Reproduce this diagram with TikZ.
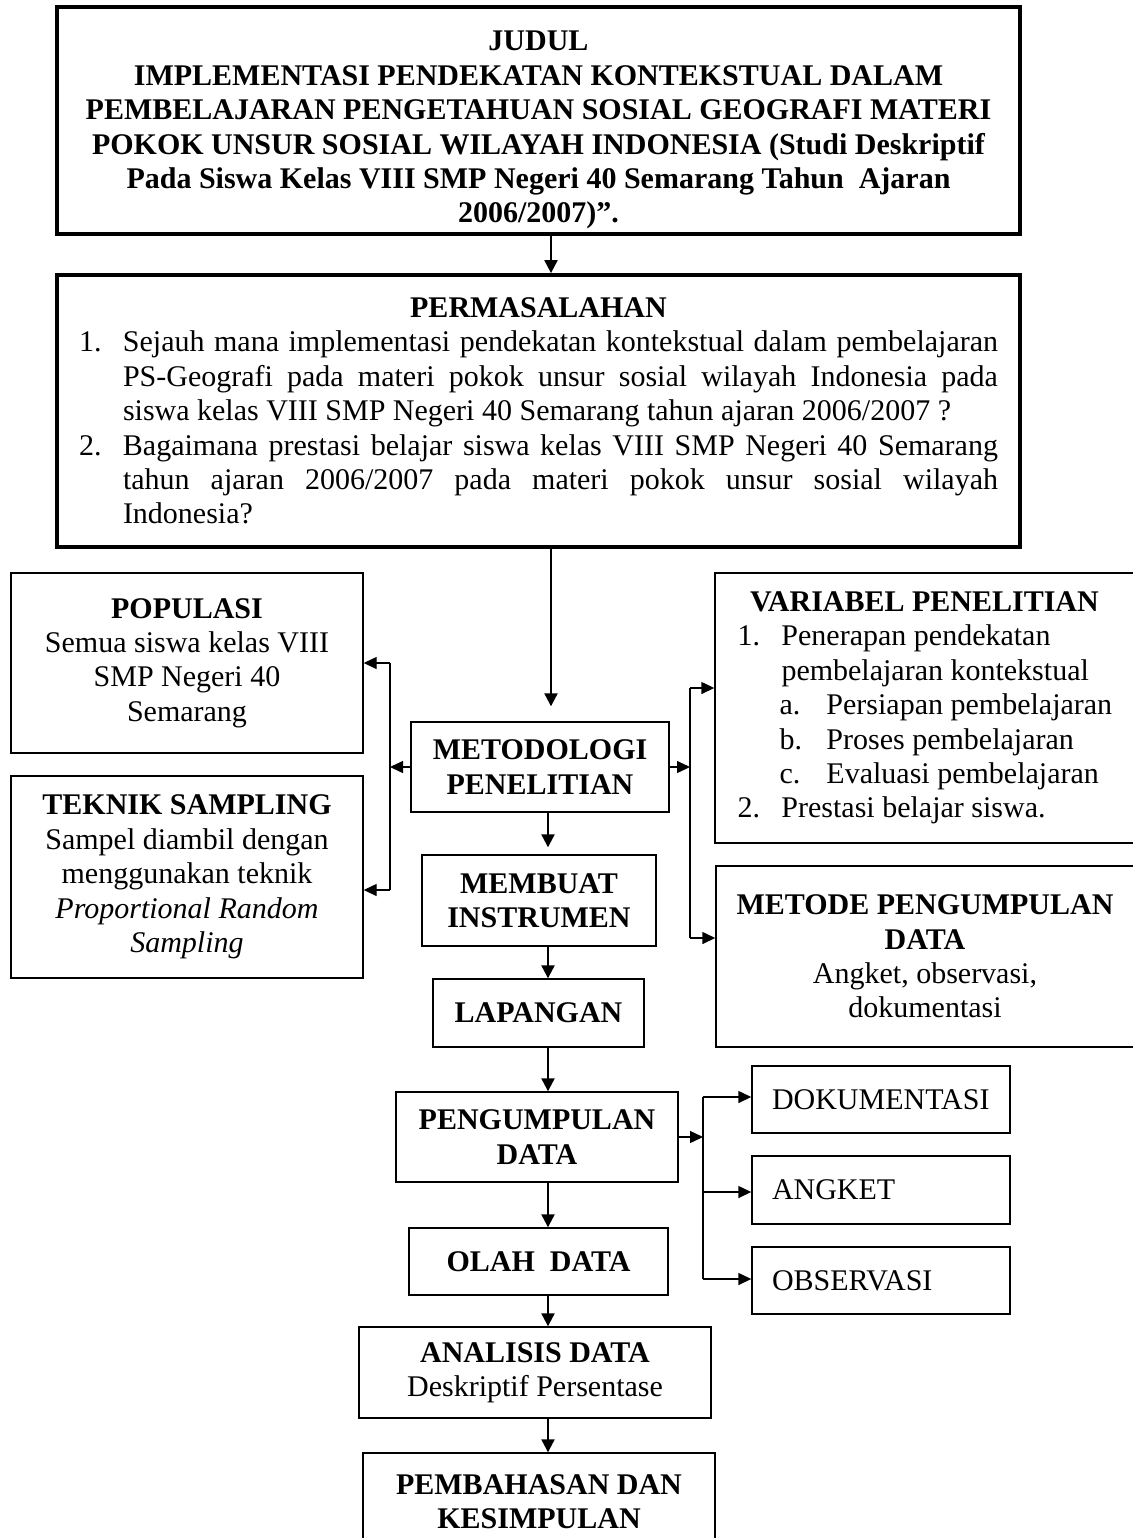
\documentclass[tikz,border=0pt]{standalone}
\usepackage{fontspec}
\setmainfont{Liberation Serif}
\usetikzlibrary{arrows.meta,positioning}
\newcommand{\ukuran}{\fontsize{15pt}{17.2pt}\selectfont}
\newcommand{\butir}[1]{\makebox[22pt][l]{#1}}

\begin{document}
\begin{tikzpicture}[x=0.5pt, y=-0.5pt,
  box/.style={draw, line width=.7pt, align=center, inner sep=2pt, font=\ukuran},
  bbox/.style={box, font=\ukuran\bfseries},
  pbox/.style={box, align=left, text width=109pt, inner xsep=10pt},
  arr/.style={-{Triangle[length=6.5pt,width=6.5pt]}, line width=1.1pt},
  arrs/.style={-{Triangle[length=6.5pt,width=6pt]}, line width=.7pt},
  bus/.style={line width=.7pt}]
  \useasboundingbox (0,0) rectangle (1133,1538);
  \coordinate (atas) at (551,0);
  \coordinate (spine) at (548,0);
  \node[bbox, line width=1.9pt, minimum width=481.5pt, minimum height=113.5pt] (judul) at (538.5,120.5)
    {JUDUL\rule{0pt}{19.5pt}\\IMPLEMENTASI PENDEKATAN KONTEKSTUAL DALAM\\PEMBELAJARAN PENGETAHUAN SOSIAL GEOGRAFI MATERI\\POKOK UNSUR SOSIAL WILAYAH INDONESIA (Studi Deskriptif\\Pada Siswa Kelas VIII SMP Negeri 40 Semarang Tahun\ \ Ajaran\\2006/2007)”.};
  \node[box, line width=1.9pt, minimum width=481.5pt, minimum height=136pt] (masalah) at (538.5,411)
    {\textbf{PERMASALAHAN}\\
     \butir{1.}\makebox[437.5pt][s]{Sejauh mana implementasi pendekatan kontekstual dalam pembelajaran}\\
     \hspace*{22pt}\makebox[437.5pt][s]{PS-Geografi pada materi pokok unsur sosial wilayah Indonesia pada}\\
     \hspace*{22pt}\makebox[437.5pt][l]{siswa kelas VIII SMP Negeri 40 Semarang tahun ajaran 2006/2007 ?}\\
     \butir{2.}\makebox[437.5pt][s]{Bagaimana prestasi belajar siswa kelas VIII SMP Negeri 40 Semarang}\\
     \hspace*{22pt}\makebox[437.5pt][s]{tahun ajaran 2006/2007 pada materi pokok unsur sosial wilayah}\\
     \hspace*{22pt}\makebox[437.5pt][l]{Indonesia?}};
  \node[box, minimum width=176pt, minimum height=90pt] (populasi) at (187,663)
    {\textbf{POPULASI}\\Semua siswa kelas VIII\\SMP Negeri 40\\Semarang};
  \node[box, minimum width=176pt, minimum height=101pt] (teknik) at (187,877)
    {\textbf{TEKNIK SAMPLING}\\Sampel diambil dengan\\menggunakan teknik\\\textit{Proportional Random}\\\textit{Sampling}};
  \node[bbox, minimum width=129pt, minimum height=45pt] (metod) at (540,767) {METODOLOGI\\PENELITIAN};
  \node[box, minimum width=209.5pt, minimum height=135pt] (variabel) at (924.5,708)
    {\textbf{VARIABEL PENELITIAN}\\
     \makebox[187pt][l]{\butir{1.}Penerapan pendekatan}\\
     \makebox[187pt][l]{\hspace*{22pt}pembelajaran kontekstual}\\
     \makebox[187pt][l]{\hspace*{21pt}\makebox[23.5pt][l]{a.}Persiapan pembelajaran}\\
     \makebox[187pt][l]{\hspace*{21pt}\makebox[23.5pt][l]{b.}Proses pembelajaran}\\
     \makebox[187pt][l]{\hspace*{21pt}\makebox[23.5pt][l]{c.}Evaluasi pembelajaran}\\
     \makebox[187pt][l]{\butir{2.}Prestasi belajar siswa.}};
  \node[box, minimum width=209pt, minimum height=90.5pt] (metode) at (925,956.5)
    {\textbf{METODE PENGUMPULAN}\\\textbf{DATA}\\Angket, observasi,\\dokumentasi};
  \node[bbox, minimum width=117pt, minimum height=45.5pt] (membuat) at (539,900.5) {MEMBUAT\\INSTRUMEN};
  \node[bbox, minimum width=105.5pt, minimum height=34pt] (lapangan) at (538.5,1013) {LAPANGAN};
  \node[bbox, minimum width=141pt, minimum height=45pt] (kumpul) at (537,1137) {PENGUMPULAN\\DATA};
  \node[pbox, minimum height=33.5pt] (dokumen) at (881,1099.5) {DOKUMENTASI};
  \node[pbox, minimum height=34pt] (angket) at (881,1190) {ANGKET};
  \node[pbox, minimum height=33.5pt] (observasi) at (881,1280.5) {OBSERVASI};
  \node[bbox, minimum width=129.5pt, minimum height=33.5pt] (olah) at (538.5,1261.5) {OLAH\ \ DATA};
  \node[box, minimum width=176pt, minimum height=45.5pt] (analisis) at (535,1372.5)
    {\textbf{ANALISIS DATA}\\Deskriptif Persentase};
  \node[bbox, minimum width=176pt, minimum height=48.5pt] (bahas) at (539,1501.5) {PEMBAHASAN DAN\\KESIMPULAN};

  \draw[arr] (judul.south -| atas) -- (masalah.north -| atas);
  \draw[arr] (masalah.south -| atas) -- ([yshift=7.5pt]metod.north -| atas);
  \draw[arr] (metod.south -| spine) -- ([yshift=3.5pt]membuat.north -| spine);
  \draw[arr] (membuat.south -| spine) -- (lapangan.north -| spine);
  \draw[arr] (lapangan.south -| spine) -- (kumpul.north -| spine);
  \draw[arr] (kumpul.south -| spine) -- (olah.north -| spine);
  \draw[arr] (olah.south -| spine) -- (analisis.north -| spine);
  \draw[arr] (analisis.south -| spine) -- (bahas.north -| spine);

  \coordinate (kiri1) at (390,663);
  \coordinate (kiri2) at (390,890);
  \draw[arrs] (metod.west) -- (metod.west -| kiri1);
  \draw[bus] (kiri1) -- (kiri2);
  \draw[arrs] (kiri1) -- (populasi.east |- kiri1);
  \draw[arrs] (kiri2) -- (teknik.east |- kiri2);

  \coordinate (kanan1) at (690,688);
  \coordinate (kanan2) at (690,938);
  \draw[arrs] (metod.east) -- (metod.east -| kanan1);
  \draw[bus] (kanan1) -- (kanan2);
  \draw[arrs] (kanan1) -- (variabel.west |- kanan1);
  \draw[arrs] (kanan2) -- (metode.west |- kanan2);

  \coordinate (data1) at (703,1097);
  \coordinate (data2) at (703,1192);
  \coordinate (data3) at (703,1279);
  \draw[arrs] (kumpul.east) -- (kumpul.east -| data1);
  \draw[bus] (data1) -- (data3);
  \draw[arrs] (data1) -- (dokumen.west |- data1);
  \draw[arrs] (data2) -- (angket.west |- data2);
  \draw[arrs] (data3) -- (observasi.west |- data3);
\end{tikzpicture}
\end{document}
